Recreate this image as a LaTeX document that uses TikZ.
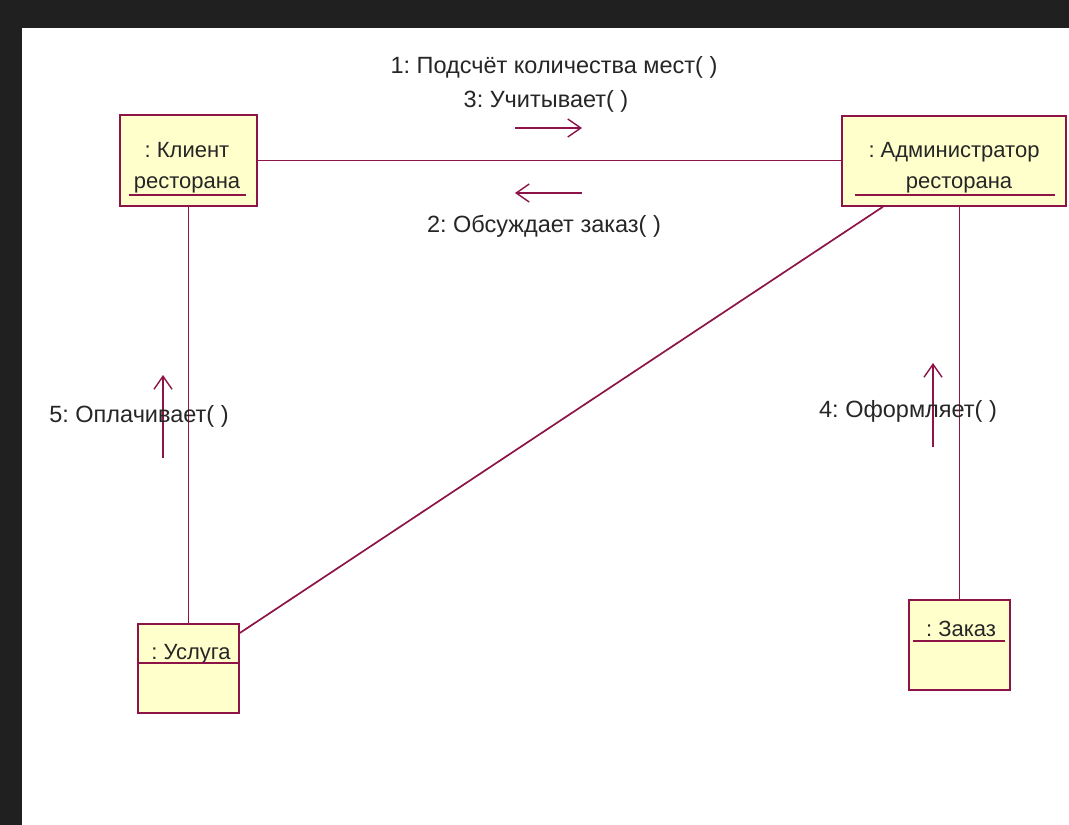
\documentclass[tikz,border=0pt]{standalone}
\usepackage{fontspec}
\setmainfont{Liberation Sans}
\usetikzlibrary{arrows.meta}
\frenchspacing

\definecolor{umlline}{RGB}{140,20,70}
\definecolor{umlfill}{RGB}{255,255,204}
\definecolor{slide}{RGB}{32,32,32}

\begin{document}
\begin{tikzpicture}[x=1pt, y=-1pt,
    obj/.style={draw=umlline, fill=umlfill, line width=1.8pt, anchor=north west, inner sep=0pt},
    lbl/.style={font=\fontsize{22}{26}\selectfont, text=black!85, inner sep=0pt, anchor=base},
    msglbl/.style={lbl, font=\fontsize{23.5}{28}\selectfont},
    link/.style={draw=umlline, line width=1.7pt},
    msg/.style={draw=umlline, line width=1.4pt, -{Straight Barb[length=13pt, width=18pt]}}]
    \def\ul{12pt}
    % slide frame
    \fill[slide] (0,0) rectangle (1069,825);
    \fill[white] (22,28) rectangle (1069,825);
    % objects
    \node[obj, minimum width=137pt, minimum height=91pt] (client) at (119,114) {};
    \node[obj, minimum width=224pt, minimum height=90pt] (admin) at (841,115) {};
    \node[obj, minimum width=101pt, minimum height=89pt] (usluga) at (137,623) {};
    \node[obj, minimum width=101pt, minimum height=90pt] (zakaz) at (908,599) {};
    \node[lbl] (clientname) at (187,157) {: Клиент};
    \node[lbl] (clientrole) at (187,188) {ресторана};
    \node[lbl] (adminname) at (954,157) {: Администратор};
    \node[lbl] (adminrole) at (959,188) {ресторана};
    \node[lbl] (usluganame) at (191,659) {: Услуга};
    \node[lbl] (zakazname) at (961,636) {: Заказ};
    \draw[link] ([xshift=10pt, yshift=\ul]client.south west) -- ([xshift=-12pt, yshift=\ul]client.south east);
    \draw[link] ([xshift=14pt, yshift=\ul]admin.south west) -- ([xshift=-12pt, yshift=\ul]admin.south east);
    \draw[link] ([yshift=-40pt]usluga.north west) -- ([yshift=-40pt]usluga.north east);
    \draw[link] ([xshift=5pt, yshift=-42pt]zakaz.north west) -- ([xshift=-6pt, yshift=-42pt]zakaz.north east);
    % links
    \draw[link] (client.east) -- (client.east -| admin.west);
    \draw[link] (client.south) -- (usluga.north);
    \draw[link] (zakaz.north) -- (zakaz.north |- admin.south);
    \draw[link] ([yshift=-10pt]usluga.north east) -- ([xshift=-71pt]admin.south);
    % messages
    \coordinate (m1a) at (515,128);
    \coordinate (m1b) at (582,128);
    \coordinate (m2a) at (582,193);
    \coordinate (m2b) at (515,193);
    \coordinate (m5a) at (163,458);
    \coordinate (m5b) at (163,375);
    \coordinate (m4a) at (933,447);
    \coordinate (m4b) at (933,363);
    \draw[msg] (m1a) -- (m1b);
    \draw[msg] (m2a) -- (m2b);
    \draw[msg] (m5a) -- (m5b);
    \draw[msg] (m4a) -- (m4b);
    \node[msglbl] (m1text) at (554,73) {1: Подсчёт количества мест( )};
    \node[msglbl] (m3text) at (546,107) {3: Учитывает( )};
    \node[msglbl] (m2text) at (544,232) {2: Обсуждает заказ( )};
    \node[msglbl] (m5text) at (139,422) {5: Оплачивает( )};
    \node[msglbl] (m4text) at (908,417) {4: Оформляет( )};
\end{tikzpicture}
\end{document}
